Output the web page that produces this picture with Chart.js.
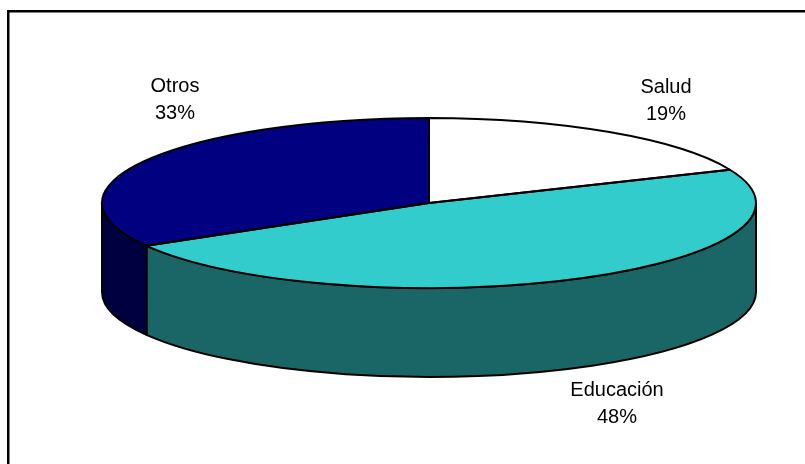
<!DOCTYPE html>
<html>
<head>
<meta charset="utf-8">
<style>
  html, body { margin: 0; background: #fff; }
  canvas { display: block; }
</style>
<script src="https://cdn.jsdelivr.net/npm/chart.js@4"></script>
</head>
<body>
<canvas id="myChart" width="805" height="464"></canvas>
<script>
const categories = ['Salud', 'Educación', 'Otros']
// they round to the printed 19 / 48 / 33
const shares = [18.6, 48, 33.4]
const topColors = ['#ffffff', '#33cccc', '#000080']
const sideColors = ['#808080', '#1a6666', '#000040']

// the pie is drawn flat by Chart.js and squashed into an ellipse here
const RX = 327
const RY = 85
const DEPTH = 89

// label centres, relative to the middle of the pie
const labelSpots = [[237, -103], [188, 200], [-254, -104]]

function ellipsePath(ctx, x, y, from, to, ccw) {
  ctx.ellipse(x, y, RX, RY, 0, from, to, ccw)
}

const pie3d = {
  id: 'pie3d',
  beforeDraw(chart) {
    // frame runs off the picture on the right and at the bottom
    const ctx = chart.ctx
    ctx.save()
    ctx.strokeStyle = '#000'
    ctx.lineWidth = 2.5
    ctx.beginPath()
    ctx.moveTo(8.25, 464)
    ctx.lineTo(8.25, 11.25)
    ctx.lineTo(805, 11.25)
    ctx.stroke()
    ctx.restore()
  },
  beforeDatasetsDraw(chart) {
    const ctx = chart.ctx
    const arcs = chart.getDatasetMeta(0).data
    ctx.save()
    ctx.strokeStyle = '#000'
    ctx.lineWidth = 2
    arcs.forEach((arc, i) => {
      const from = Math.max(arc.startAngle, 0)
      const to = Math.min(arc.endAngle, Math.PI)
      if (from >= to) return
      ctx.beginPath()
      ellipsePath(ctx, arc.x, arc.y, from, to, false)
      ellipsePath(ctx, arc.x, arc.y + DEPTH, to, from, true)
      ctx.closePath()
      ctx.fillStyle = sideColors[i]
      ctx.fill()
      ctx.stroke()
    })
    ctx.restore()

    const first = arcs[0]
    ctx.save()
    ctx.translate(first.x, first.y)
    ctx.scale(RX / first.outerRadius, RY / first.outerRadius)
    ctx.translate(-first.x, -first.y)
  },
  afterDatasetsDraw(chart) {
    const ctx = chart.ctx
    const arcs = chart.getDatasetMeta(0).data
    ctx.restore()

    ctx.save()
    ctx.strokeStyle = '#000'
    ctx.lineWidth = 2
    ctx.lineJoin = 'round'
    arcs.forEach(arc => {
      ctx.beginPath()
      ctx.moveTo(arc.x, arc.y)
      ellipsePath(ctx, arc.x, arc.y, arc.startAngle, arc.endAngle, false)
      ctx.closePath()
      ctx.stroke()
    })

    ctx.fillStyle = '#000'
    ctx.font = '20px "Liberation Sans", Arial, sans-serif'
    ctx.textAlign = 'center'
    ctx.textBaseline = 'middle'
    arcs.forEach((arc, i) => {
      const x = arc.x + labelSpots[i][0]
      const y = arc.y + labelSpots[i][1]
      ctx.fillText(categories[i], x, y - 13)
      ctx.fillText(Math.round(shares[i]) + '%', x, y + 14)
    })
    ctx.restore()
  }
}

new Chart(document.getElementById('myChart').getContext('2d'), {
  type: 'pie',
  data: {
    labels: categories,
    datasets: [{
      data: shares,
      backgroundColor: topColors,
      borderWidth: 0
    }]
  },
  options: {
    responsive: false,
    animation: false,
    layout: { padding: { left: 53, top: 0, right: 0, bottom: 58 } },
    plugins: {
      legend: { display: false },
      tooltip: { enabled: false }
    }
  },
  plugins: [pie3d]
})
</script>
</body>
</html>
